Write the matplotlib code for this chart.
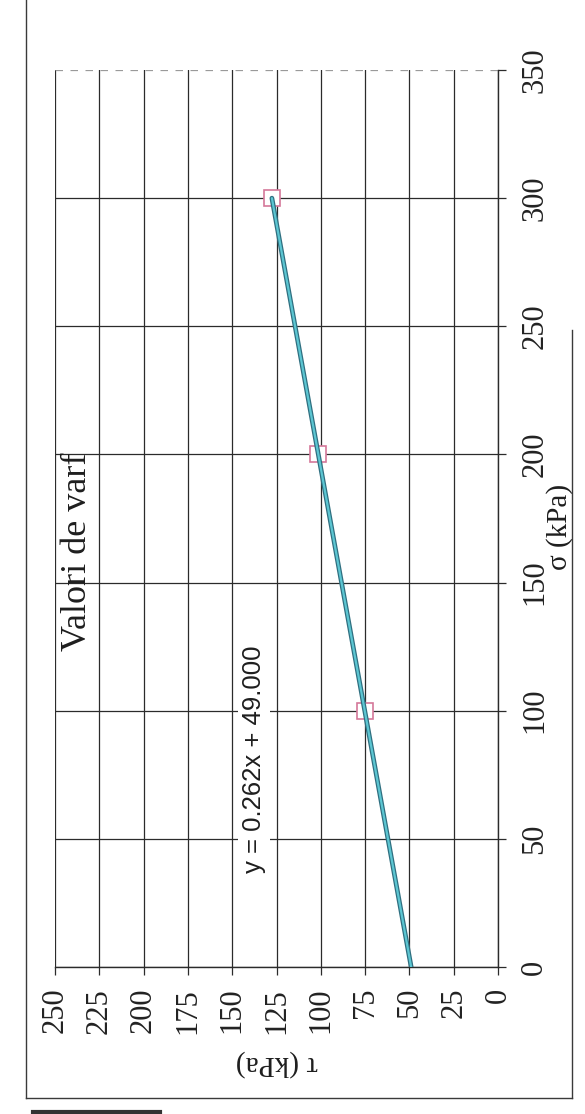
import numpy as np
import matplotlib
matplotlib.use("Agg")
import matplotlib.pyplot as plt
from matplotlib.lines import Line2D

# ---- data read from the (rotated) chart ----
sigma = [100, 200, 300]            # normal stress, kPa
tau = [75.2, 101.4, 127.6]         # peak shear stress, kPa
sigma_ticks = [0, 50, 100, 150, 200, 250, 300, 350]
tau_ticks = [0, 25, 50, 75, 100, 125, 150, 175, 200, 225, 250]
title_text = "Valori de varf"
sigma_label = "σ (kPa)"
tau_label = "τ (kPa)"

plt.rcParams['font.family'] = ['Liberation Serif', 'DejaVu Serif']

W, H = 585, 1114
fig = plt.figure(figsize=(W / 100, H / 100), dpi=100)
fig.patch.set_facecolor('white')

def fx(px):
    return px / W

def fy(py):
    return 1 - py / H

# plot area (pixel edges)
L, R, T, B = 55, 498, 70, 967
ax = fig.add_axes([fx(L), fy(B), (R - L) / W, (B - T) / H])
ax.set_xlim(max(tau_ticks), min(tau_ticks))   # tau grows to the left (chart rotated)
ax.set_ylim(min(sigma_ticks), max(sigma_ticks))
ax.set_xticks(tau_ticks)
ax.set_yticks(sigma_ticks)
ax.yaxis.tick_right()

gc = '#2b2b2b'
ax.grid(True, color=gc, lw=0.9)
ax.set_axisbelow(True)
for s in ['left', 'top']:
    ax.spines[s].set_visible(False)
for s in ['bottom', 'right']:
    ax.spines[s].set_color(gc)
    ax.spines[s].set_linewidth(1.0)

ax.tick_params(axis='x', direction='out', length=6, width=0.9, color=gc,
               pad=9, labelrotation=90, labelsize=22, labelcolor='#222222')
ax.tick_params(axis='y', direction='out', length=6, width=0.9, color=gc,
               pad=10, labelrotation=90, labelsize=22, labelcolor='#222222')
for lbl in ax.get_yticklabels():
    lbl.set_verticalalignment('center')

# top gridline faint/dashed like reference
ygl = ax.yaxis.get_gridlines()
ygl[-1].set_color('#9a9a9a')
ygl[-1].set_linestyle((0, (6, 6)))

# trendline
slope, intercept = np.polyfit(sigma, tau, 1)
sig_line = np.array([0, max(sigma)])
tau_line = slope * sig_line + intercept
ax.plot(tau_line, sig_line, color='#2f6f80', lw=3.4, solid_capstyle='round', zorder=4)
ax.plot(tau_line, sig_line, color='#5cc6d2', lw=1.6, solid_capstyle='round', zorder=5)

# data markers
ax.plot(tau, sigma, linestyle='none', marker='s', ms=12, mfc='white',
        mec='#d4789a', mew=1.2, zorder=3)

# texts
fig.text(fx(78), fy(552), title_text, rotation=90, ha='center', va='center',
         fontsize=26, color='#1e1e1e')
fig.text(fx(254), fy(759), f"y = {slope:.3f}x + {intercept:.3f}", rotation=90,
         ha='center', va='center', fontsize=18.5, color='#1e1e1e',
         family=['Liberation Sans', 'DejaVu Sans'],
         bbox=dict(facecolor='white', edgecolor='none', pad=3))
fig.text(fx(560), fy(527), sigma_label, rotation=90, ha='center', va='center',
         fontsize=21, color='#1e1e1e')
fig.text(fx(277), fy(1063), tau_label, rotation=180, ha='center', va='center',
         fontsize=21, color='#1e1e1e')

# chart-area frame (scanned border)
fc = '#3a3a3a'
fig.add_artist(Line2D([fx(26), fx(26)], [fy(0), fy(1098)], color=fc, lw=1.0))
fig.add_artist(Line2D([fx(26), fx(572)], [fy(1098), fy(1098)], color=fc, lw=1.0))
fig.add_artist(Line2D([fx(572), fx(572)], [fy(1098), fy(330)], color=fc, lw=1.0))
fig.add_artist(Line2D([fx(33), fx(160)], [fy(1112), fy(1112)], color='#333333', lw=3.0))

fig.savefig('out.png', dpi=100, facecolor='white')
